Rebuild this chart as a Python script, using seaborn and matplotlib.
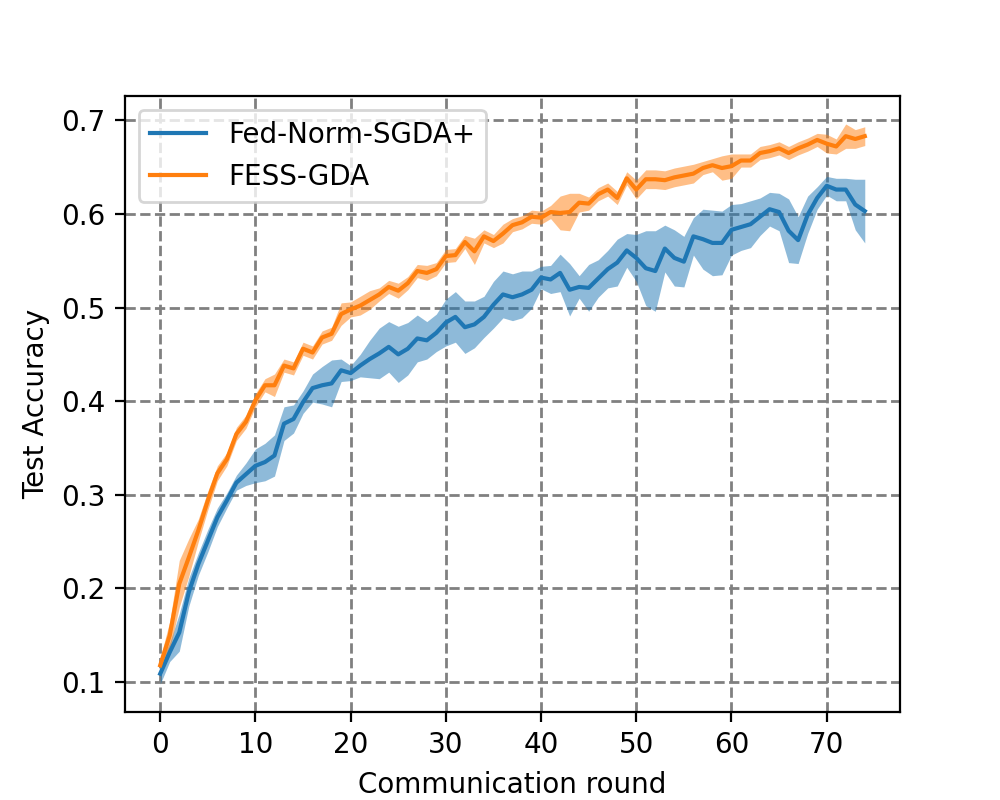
import numpy as np
import pandas as pd
import matplotlib
matplotlib.use("Agg")
import matplotlib.pyplot as plt
import seaborn as sns
from matplotlib.lines import Line2D

rounds = list(range(75))

fed_norm_mean = [0.109, 0.132, 0.153, 0.196, 0.226, 0.251, 0.276, 0.294, 0.313, 0.322,
                 0.331, 0.335, 0.342, 0.376, 0.381, 0.399, 0.414, 0.417, 0.419, 0.433,
                 0.430, 0.438, 0.445, 0.451, 0.458, 0.450, 0.456, 0.467, 0.465, 0.473,
                 0.484, 0.490, 0.479, 0.482, 0.490, 0.503, 0.514, 0.511, 0.514, 0.519,
                 0.532, 0.530, 0.537, 0.519, 0.522, 0.521, 0.531, 0.541, 0.548, 0.561,
                 0.553, 0.542, 0.539, 0.563, 0.553, 0.549, 0.576, 0.573, 0.569, 0.569,
                 0.583, 0.586, 0.589, 0.597, 0.605, 0.602, 0.582, 0.572, 0.599, 0.617,
                 0.630, 0.626, 0.626, 0.610, 0.603]
fed_norm_std = [0.011, 0.010, 0.020, 0.015, 0.012, 0.012, 0.010, 0.008, 0.008, 0.012,
                0.018, 0.020, 0.022, 0.018, 0.015, 0.012, 0.015, 0.020, 0.025, 0.012,
                0.008, 0.012, 0.020, 0.027, 0.027, 0.030, 0.028, 0.025, 0.020, 0.020,
                0.025, 0.027, 0.028, 0.025, 0.022, 0.025, 0.025, 0.025, 0.025, 0.020,
                0.012, 0.015, 0.020, 0.028, 0.012, 0.025, 0.020, 0.020, 0.025, 0.018,
                0.025, 0.040, 0.043, 0.025, 0.030, 0.027, 0.020, 0.032, 0.035, 0.034,
                0.027, 0.025, 0.025, 0.020, 0.018, 0.020, 0.034, 0.025, 0.020, 0.012,
                0.010, 0.012, 0.012, 0.027, 0.034]

fess_mean = [0.118, 0.150, 0.205, 0.233, 0.262, 0.294, 0.323, 0.338, 0.365, 0.378,
             0.401, 0.417, 0.417, 0.438, 0.435, 0.456, 0.452, 0.468, 0.472, 0.493,
             0.498, 0.502, 0.508, 0.514, 0.522, 0.518, 0.526, 0.539, 0.537, 0.541,
             0.555, 0.556, 0.570, 0.560, 0.576, 0.571, 0.579, 0.588, 0.591, 0.597,
             0.596, 0.602, 0.601, 0.602, 0.612, 0.611, 0.621, 0.626, 0.617, 0.638,
             0.626, 0.637, 0.637, 0.636, 0.639, 0.641, 0.643, 0.649, 0.652, 0.649,
             0.651, 0.657, 0.657, 0.665, 0.667, 0.670, 0.665, 0.670, 0.674, 0.679,
             0.675, 0.672, 0.683, 0.680, 0.683]
fess_std = [0.008, 0.015, 0.025, 0.020, 0.012, 0.010, 0.008, 0.007, 0.007, 0.007,
            0.007, 0.007, 0.012, 0.007, 0.007, 0.007, 0.007, 0.007, 0.007, 0.012,
            0.008, 0.010, 0.010, 0.007, 0.007, 0.008, 0.007, 0.007, 0.008, 0.007,
            0.007, 0.007, 0.007, 0.014, 0.007, 0.007, 0.010, 0.007, 0.007, 0.007,
            0.007, 0.007, 0.018, 0.020, 0.010, 0.007, 0.007, 0.007, 0.007, 0.007,
            0.010, 0.010, 0.010, 0.010, 0.010, 0.010, 0.010, 0.007, 0.007, 0.013,
            0.013, 0.007, 0.007, 0.007, 0.007, 0.007, 0.007, 0.007, 0.007, 0.007,
            0.010, 0.008, 0.013, 0.010, 0.010]

methods = ["Fed-Norm-SGDA+", "FESS-GDA"]
colors = ["#1f77b4", "#ff7f0e"]

df = pd.DataFrame({
    "round": rounds * 2,
    "acc": fed_norm_mean + fess_mean,
    "std": fed_norm_std + fess_std,
    "method": [methods[0]] * 75 + [methods[1]] * 75,
})

fig, ax = plt.subplots(figsize=(5, 4), dpi=200)
sns.lineplot(data=df, x="round", y="acc", hue="method", palette=colors,
             linewidth=1.5, ax=ax, legend=False, zorder=3)
for m, c in zip(methods, colors):
    sub = df[df["method"] == m]
    ax.fill_between(sub["round"], sub["acc"] - sub["std"], sub["acc"] + sub["std"],
                    color=c, alpha=0.5, linewidth=0, zorder=2)

ax.grid(True, linestyle="--", color="gray", linewidth=1.0)
ax.set_axisbelow(True)
ax.set_xlabel("Communication round")
ax.set_ylabel("Test Accuracy")
ax.set_xticks([0, 10, 20, 30, 40, 50, 60, 70])
ax.set_yticks([0.1, 0.2, 0.3, 0.4, 0.5, 0.6, 0.7])

handles = [Line2D([0], [0], color=c, linewidth=1.5) for c in colors]
ax.legend(handles, methods, loc="upper left")

fig.savefig("out.png", dpi=200)
